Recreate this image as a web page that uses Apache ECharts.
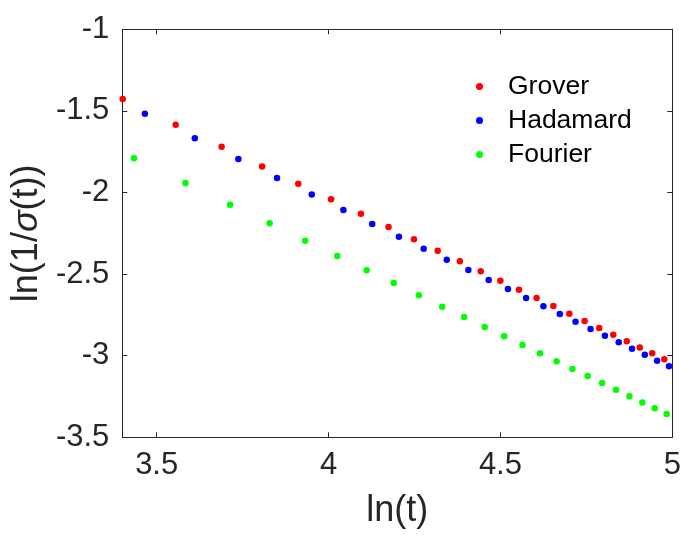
<!DOCTYPE html>
<html>
<head>
<meta charset="utf-8">
<script src="https://cdn.jsdelivr.net/npm/echarts@6/dist/echarts.min.js"></script>
<style>html,body{margin:0;padding:0;background:#fff}#c{width:697px;height:542px}</style>
</head>
<body>
<div id="c"></div>
<script>
// ln(t) positions
var groverX = [3.4012,3.5553,3.6889,3.8067,3.9120,4.0073,4.0943,4.1744,4.2485,4.3175,4.3820,4.4427,4.4998,4.5539,4.6052,4.6540,4.7005,4.7449,4.7875,4.8283,4.8675,4.9053,4.9416,4.9767];
var groverY = [-1.427,-1.585,-1.719,-1.840,-1.946,-2.042,-2.130,-2.211,-2.287,-2.357,-2.422,-2.483,-2.540,-2.596,-2.646,-2.695,-2.743,-2.787,-2.830,-2.871,-2.912,-2.949,-2.985,-3.022];
var hadamardX = [3.4657,3.6109,3.7377,3.8501,3.9512,4.0431,4.1271,4.2047,4.2767,4.3438,4.4067,4.4659,4.5218,4.5747,4.6250,4.6728,4.7185,4.7622,4.8040,4.8442,4.8828,4.9200,4.9558,4.9904];
var hadamardY = [-1.517,-1.668,-1.795,-1.911,-2.013,-2.107,-2.193,-2.271,-2.344,-2.412,-2.475,-2.536,-2.591,-2.646,-2.697,-2.744,-2.792,-2.836,-2.877,-2.918,-2.957,-2.994,-3.031,-3.065];
var fourierX = [3.4340,3.5835,3.7136,3.8286,3.9318,4.0254,4.1109,4.1897,4.2627,4.3307,4.3944,4.4543,4.5109,4.5643,4.6151,4.6634,4.7095,4.7536,4.7958,4.8363,4.8752,4.9127,4.9488,4.9836];
var fourierY = [-1.790,-1.942,-2.075,-2.189,-2.295,-2.389,-2.477,-2.555,-2.630,-2.700,-2.763,-2.824,-2.881,-2.934,-2.985,-3.034,-3.081,-3.124,-3.167,-3.208,-3.249,-3.286,-3.322,-3.357];
var xTicks = [3.5, 4, 4.5, 5];
var seriesNames = ['Grover', 'Hadamard', 'Fourier'];

function pairs(xs, ys) { return xs.map(function (x, i) { return [x, ys[i]]; }); }

var FONT = '"Liberation Sans", Arial, Helvetica, sans-serif';
var TXT = '#262626';
var chart = echarts.init(document.getElementById('c'), null, {renderer: 'canvas'});
var axisLine = {show: true, lineStyle: {color: TXT, width: 1}};
chart.setOption({
  animation: false,
  backgroundColor: '#fff',
  textStyle: {fontFamily: FONT},
  grid: {left: 122.3, right: 24.7, top: 29.3, bottom: 104.7, containLabel: false},
  legend: {
    data: seriesNames,
    orient: 'vertical',
    left: 476, top: 73,
    padding: 0,
    itemWidth: 7, itemHeight: 7, itemGap: 7,
    icon: 'circle',
    textStyle: {fontSize: 26.5, color: '#000', fontFamily: FONT, padding: [0, 0, 0, 20]}
  },
  xAxis: [{
    type: 'value', min: 3.4, max: 5, position: 'bottom',
    name: 'ln(t)', nameLocation: 'middle', nameGap: 56,
    nameTextStyle: {fontSize: 36, color: TXT, fontFamily: FONT},
    axisLine: axisLine,
    axisTick: {show: true, inside: true, length: 5, lineStyle: {color: TXT}, customValues: xTicks},
    axisLabel: {show: true, fontSize: 31, color: TXT, margin: 13, customValues: xTicks, fontFamily: FONT},
    splitLine: {show: false}
  }, {
    type: 'value', min: 3.4, max: 5, position: 'top',
    axisLine: axisLine,
    axisTick: {show: true, inside: true, length: 5, lineStyle: {color: TXT}, customValues: xTicks},
    axisLabel: {show: false},
    splitLine: {show: false}
  }],
  yAxis: [{
    type: 'value', min: -3.5, max: -1, interval: 0.5, position: 'left',
    name: '{a|ln(1/}{b|σ}{a|(t))}', nameLocation: 'middle', nameGap: 66,
    nameTextStyle: {fontSize: 36, color: TXT, fontFamily: FONT,
      rich: {a: {fontSize: 36, color: TXT, fontFamily: FONT}, b: {fontSize: 36, color: TXT, fontFamily: FONT, fontStyle: 'italic'}}},
    axisLine: axisLine,
    axisTick: {show: true, inside: true, length: 5, lineStyle: {color: TXT}},
    axisLabel: {show: true, fontSize: 31, color: TXT, margin: 13, fontFamily: FONT},
    splitLine: {show: false}
  }, {
    type: 'value', min: -3.5, max: -1, interval: 0.5, position: 'right',
    axisLine: axisLine,
    axisTick: {show: true, inside: true, length: 5, lineStyle: {color: TXT}},
    axisLabel: {show: false},
    splitLine: {show: false}
  }],
  series: [
    {name: 'Grover', type: 'scatter', symbol: 'circle', symbolSize: 6.5, itemStyle: {color: '#ff0000', opacity: 1}, data: pairs(groverX, groverY)},
    {name: 'Hadamard', type: 'scatter', symbol: 'circle', symbolSize: 6.5, itemStyle: {color: '#0000ff', opacity: 1}, data: pairs(hadamardX, hadamardY)},
    {name: 'Fourier', type: 'scatter', symbol: 'circle', symbolSize: 6.5, itemStyle: {color: '#00ff00', opacity: 1}, data: pairs(fourierX, fourierY)}
  ]
});
</script>
</body>
</html>
